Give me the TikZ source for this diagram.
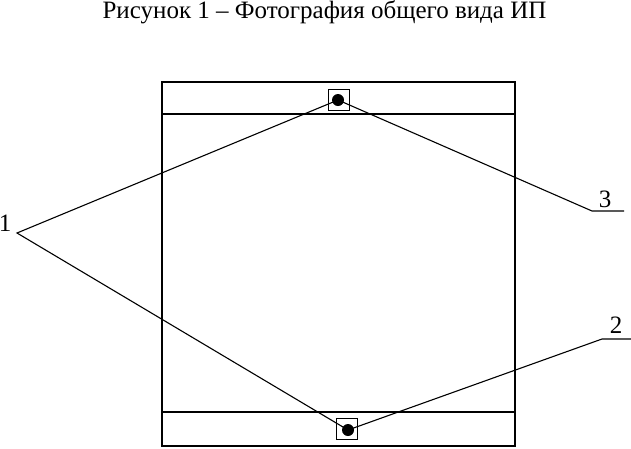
\documentclass[tikz,border=0pt]{standalone}
\usepackage{fontspec}
\setmainfont{Liberation Serif}
\begin{document}
\begin{tikzpicture}[x=1pt,y=-1pt,
  frame/.style={line width=2.4pt},
  leader/.style={line width=1.1pt},
  sq/.style={draw,line width=1.8pt,minimum size=21pt,inner sep=0pt},
  dotc/.style={circle,fill=black,minimum size=12pt,inner sep=0pt},
  lbl/.style={font=\fontsize{25}{28}\selectfont,inner sep=0pt}]
\useasboundingbox (0,0) rectangle (631,448);
\node[font=\fontsize{25}{28}\selectfont,inner sep=0pt] (title) at (324.5,12) {Рисунок 1 – Фотография общего вида ИП};
\draw[frame] (162,82) rectangle (515,446);
\draw[frame] (162,114) -- (515,114);
\draw[frame] (162,412) -- (515,412);
\node[sq] (sqt) at (339,100) {};
\node[sq] (sqb) at (347,429) {};
\node[dotc] (dt) at (338,100) {};
\node[dotc] (db) at (348,430) {};
\coordinate (apex) at (17,233);
\coordinate (k3) at (592,211);
\coordinate (e3) at (624,211);
\coordinate (k2) at (602,339);
\coordinate (e2) at (631,339);
\draw[leader] (dt.center) -- (apex) -- (db.center);
\draw[leader] (dt.center) -- (k3) -- (e3);
\draw[leader] (db.center) -- (k2) -- (e2);
\node[lbl] (l1) at (5,223) {1};
\node[lbl] (l3) at (605,199) {3};
\node[lbl] (l2) at (616,325) {2};
\end{tikzpicture}
\end{document}
